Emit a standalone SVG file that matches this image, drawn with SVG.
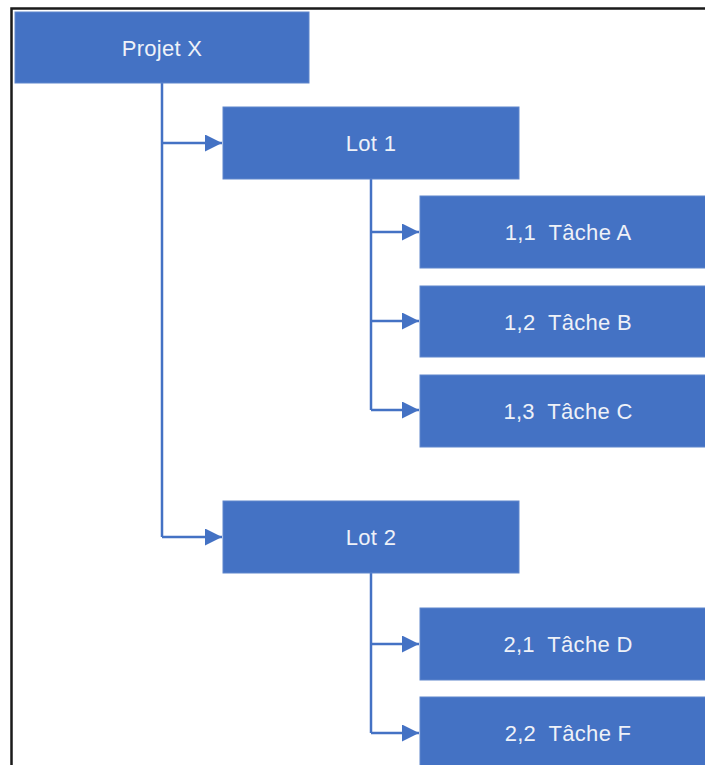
<svg xmlns="http://www.w3.org/2000/svg" width="705" height="765" viewBox="0 0 705 765">
<style>
.box{fill:#4472C4;stroke:#5f86cc;stroke-width:1}
.lbl{font-family:"Liberation Sans",Arial,sans-serif;font-size:22px;letter-spacing:0.3px;fill:#eef1f8;text-anchor:middle;white-space:pre}
.ln{fill:none;stroke:#4472C4;stroke-width:2.5}
</style>
<defs>
<marker id="ah" viewBox="0 0 10 10" refX="10" refY="5" markerWidth="17" markerHeight="17" markerUnits="userSpaceOnUse" orient="auto">
<path d="M0,0 L10,5 L0,10 z" fill="#4472C4"/>
</marker>
</defs>
<rect width="705" height="765" fill="#ffffff"/>
<path d="M11.5,765 V8.5 H705" fill="none" stroke="#1a1a1a" stroke-width="2.5"/>
<g id="connectors">
<path class="ln" d="M162,83 V537"/>
<path class="ln" d="M162,143 H222" marker-end="url(#ah)"/>
<path class="ln" d="M162,537 H222" marker-end="url(#ah)"/>
<path class="ln" d="M371,179 V410"/>
<path class="ln" d="M371,232 H419" marker-end="url(#ah)"/>
<path class="ln" d="M371,321 H419" marker-end="url(#ah)"/>
<path class="ln" d="M371,410 H419" marker-end="url(#ah)"/>
<path class="ln" d="M371,573 V733"/>
<path class="ln" d="M371,644 H419" marker-end="url(#ah)"/>
<path class="ln" d="M371,733 H419" marker-end="url(#ah)"/>
</g>
<g id="projet-x"><rect class="box" x="15" y="12" width="294" height="71"/><text class="lbl" x="162" y="55.5">Projet X</text></g>
<g id="lot-1"><rect class="box" x="223" y="107" width="296" height="72"/><text class="lbl" x="371" y="151">Lot 1</text></g>
<g id="tache-a"><rect class="box" x="420" y="196" width="296" height="72"/><text class="lbl" x="568" y="240" xml:space="preserve">1,1  Tâche A</text></g>
<g id="tache-b"><rect class="box" x="420" y="286" width="296" height="71"/><text class="lbl" x="568" y="329.5" xml:space="preserve">1,2  Tâche B</text></g>
<g id="tache-c"><rect class="box" x="420" y="375" width="296" height="72"/><text class="lbl" x="568" y="419" xml:space="preserve">1,3  Tâche C</text></g>
<g id="lot-2"><rect class="box" x="223" y="501" width="296" height="72"/><text class="lbl" x="371" y="545">Lot 2</text></g>
<g id="tache-d"><rect class="box" x="420" y="608" width="296" height="72"/><text class="lbl" x="568" y="652" xml:space="preserve">2,1  Tâche D</text></g>
<g id="tache-f"><rect class="box" x="420" y="697" width="296" height="72"/><text class="lbl" x="568" y="741" xml:space="preserve">2,2  Tâche F</text></g>
</svg>
